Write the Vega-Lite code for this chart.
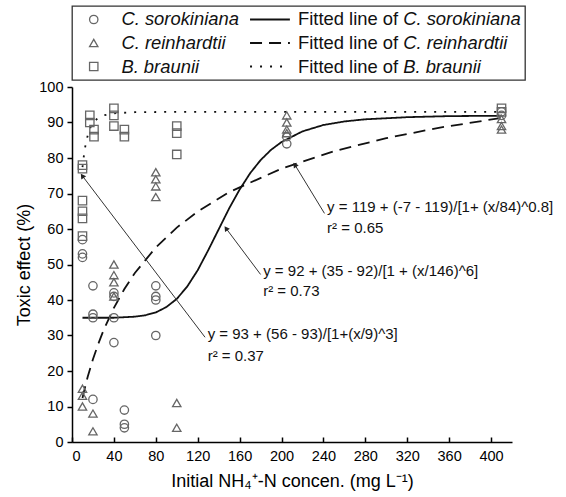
{
  "$schema": "https://vega.github.io/schema/vega-lite/v6.json",
  "padding": {"left": 15, "top": 5, "right": 5, "bottom": 2},
  "spacing": 7,
  "bounds": "flush",
  "config": {
    "view": {"stroke": null},
    "font": "Liberation Sans",
    "axis": {
      "grid": false,
      "domainColor": "#000",
      "domainWidth": 1.5,
      "tickColor": "#000",
      "tickWidth": 1.5,
      "labelColor": "#000",
      "labelFont": "Liberation Sans",
      "labelFontSize": 14.5,
      "titleColor": "#000",
      "titleFont": "Liberation Sans",
      "titleFontSize": 18,
      "titleFontWeight": "normal"
    }
  },
  "datasets": {
    "legend": [
      {"species": "C. sorokiniana"},
      {"species": "C. reinhardtii"},
      {"species": "B. braunii"}
    ],
    "obs": [
      {"species": "C. sorokiniana", "x": 10, "y": 57},
      {"species": "C. sorokiniana", "x": 10, "y": 53},
      {"species": "C. sorokiniana", "x": 10, "y": 52},
      {"species": "C. sorokiniana", "x": 20, "y": 44},
      {"species": "C. sorokiniana", "x": 20, "y": 36},
      {"species": "C. sorokiniana", "x": 20, "y": 35},
      {"species": "C. sorokiniana", "x": 20, "y": 12},
      {"species": "C. sorokiniana", "x": 40, "y": 42},
      {"species": "C. sorokiniana", "x": 40, "y": 41},
      {"species": "C. sorokiniana", "x": 40, "y": 35},
      {"species": "C. sorokiniana", "x": 40, "y": 28},
      {"species": "C. sorokiniana", "x": 50, "y": 9},
      {"species": "C. sorokiniana", "x": 50, "y": 5},
      {"species": "C. sorokiniana", "x": 50, "y": 4},
      {"species": "C. sorokiniana", "x": 80, "y": 44},
      {"species": "C. sorokiniana", "x": 80, "y": 41},
      {"species": "C. sorokiniana", "x": 80, "y": 40},
      {"species": "C. sorokiniana", "x": 80, "y": 30},
      {"species": "C. sorokiniana", "x": 205, "y": 86},
      {"species": "C. sorokiniana", "x": 205, "y": 84},
      {"species": "C. sorokiniana", "x": 410, "y": 93},
      {"species": "C. sorokiniana", "x": 410, "y": 92},
      {"species": "C. reinhardtii", "x": 10, "y": 15},
      {"species": "C. reinhardtii", "x": 10, "y": 13},
      {"species": "C. reinhardtii", "x": 10, "y": 10},
      {"species": "C. reinhardtii", "x": 20, "y": 8},
      {"species": "C. reinhardtii", "x": 20, "y": 3},
      {"species": "C. reinhardtii", "x": 40, "y": 50},
      {"species": "C. reinhardtii", "x": 40, "y": 47},
      {"species": "C. reinhardtii", "x": 40, "y": 45},
      {"species": "C. reinhardtii", "x": 40, "y": 41},
      {"species": "C. reinhardtii", "x": 80, "y": 76},
      {"species": "C. reinhardtii", "x": 80, "y": 74},
      {"species": "C. reinhardtii", "x": 80, "y": 72},
      {"species": "C. reinhardtii", "x": 80, "y": 69},
      {"species": "C. reinhardtii", "x": 100, "y": 11},
      {"species": "C. reinhardtii", "x": 100, "y": 4},
      {"species": "C. reinhardtii", "x": 205, "y": 92},
      {"species": "C. reinhardtii", "x": 205, "y": 90},
      {"species": "C. reinhardtii", "x": 205, "y": 88},
      {"species": "C. reinhardtii", "x": 205, "y": 87},
      {"species": "C. reinhardtii", "x": 410, "y": 91},
      {"species": "C. reinhardtii", "x": 410, "y": 89},
      {"species": "C. reinhardtii", "x": 410, "y": 88},
      {"species": "B. braunii", "x": 10, "y": 78},
      {"species": "B. braunii", "x": 10, "y": 77},
      {"species": "B. braunii", "x": 10, "y": 68},
      {"species": "B. braunii", "x": 10, "y": 65},
      {"species": "B. braunii", "x": 10, "y": 63},
      {"species": "B. braunii", "x": 10, "y": 58},
      {"species": "B. braunii", "x": 17, "y": 92},
      {"species": "B. braunii", "x": 17, "y": 90},
      {"species": "B. braunii", "x": 21, "y": 88},
      {"species": "B. braunii", "x": 21, "y": 86},
      {"species": "B. braunii", "x": 40, "y": 94},
      {"species": "B. braunii", "x": 40, "y": 92},
      {"species": "B. braunii", "x": 40, "y": 89},
      {"species": "B. braunii", "x": 50, "y": 88},
      {"species": "B. braunii", "x": 50, "y": 86},
      {"species": "B. braunii", "x": 100, "y": 89},
      {"species": "B. braunii", "x": 100, "y": 87},
      {"species": "B. braunii", "x": 100, "y": 81},
      {"species": "B. braunii", "x": 410, "y": 94},
      {"species": "B. braunii", "x": 410, "y": 93}
    ],
    "fits": [
      {"species": "C. sorokiniana", "x": 10, "y": 35.0},
      {"species": "C. sorokiniana", "x": 40, "y": 35.0},
      {"species": "C. sorokiniana", "x": 60, "y": 35.3},
      {"species": "C. sorokiniana", "x": 70, "y": 35.7},
      {"species": "C. sorokiniana", "x": 80, "y": 36.5},
      {"species": "C. sorokiniana", "x": 90, "y": 38.0},
      {"species": "C. sorokiniana", "x": 100, "y": 40.3},
      {"species": "C. sorokiniana", "x": 110, "y": 43.8},
      {"species": "C. sorokiniana", "x": 120, "y": 48.4},
      {"species": "C. sorokiniana", "x": 130, "y": 54.0},
      {"species": "C. sorokiniana", "x": 140, "y": 59.9},
      {"species": "C. sorokiniana", "x": 150, "y": 65.8},
      {"species": "C. sorokiniana", "x": 160, "y": 71.1},
      {"species": "C. sorokiniana", "x": 170, "y": 75.7},
      {"species": "C. sorokiniana", "x": 180, "y": 79.4},
      {"species": "C. sorokiniana", "x": 190, "y": 82.3},
      {"species": "C. sorokiniana", "x": 200, "y": 84.5},
      {"species": "C. sorokiniana", "x": 220, "y": 87.5},
      {"species": "C. sorokiniana", "x": 240, "y": 89.3},
      {"species": "C. sorokiniana", "x": 260, "y": 90.3},
      {"species": "C. sorokiniana", "x": 280, "y": 90.9},
      {"species": "C. sorokiniana", "x": 320, "y": 91.5},
      {"species": "C. sorokiniana", "x": 360, "y": 91.8},
      {"species": "C. sorokiniana", "x": 410, "y": 91.9},
      {"species": "C. reinhardtii", "x": 10, "y": 12.4},
      {"species": "C. reinhardtii", "x": 12, "y": 14.9},
      {"species": "C. reinhardtii", "x": 15, "y": 18.4},
      {"species": "C. reinhardtii", "x": 20, "y": 23.3},
      {"species": "C. reinhardtii", "x": 25, "y": 27.6},
      {"species": "C. reinhardtii", "x": 30, "y": 31.4},
      {"species": "C. reinhardtii", "x": 40, "y": 37.8},
      {"species": "C. reinhardtii", "x": 50, "y": 43.1},
      {"species": "C. reinhardtii", "x": 60, "y": 47.6},
      {"species": "C. reinhardtii", "x": 80, "y": 54.8},
      {"species": "C. reinhardtii", "x": 100, "y": 60.4},
      {"species": "C. reinhardtii", "x": 120, "y": 64.9},
      {"species": "C. reinhardtii", "x": 150, "y": 70.4},
      {"species": "C. reinhardtii", "x": 200, "y": 77.0},
      {"species": "C. reinhardtii", "x": 250, "y": 81.9},
      {"species": "C. reinhardtii", "x": 300, "y": 85.6},
      {"species": "C. reinhardtii", "x": 350, "y": 88.5},
      {"species": "C. reinhardtii", "x": 410, "y": 91.3},
      {"species": "B. braunii", "x": 10, "y": 77.4},
      {"species": "B. braunii", "x": 11, "y": 79.9},
      {"species": "B. braunii", "x": 12, "y": 82.0},
      {"species": "B. braunii", "x": 13, "y": 83.8},
      {"species": "B. braunii", "x": 14, "y": 85.2},
      {"species": "B. braunii", "x": 16, "y": 87.4},
      {"species": "B. braunii", "x": 18, "y": 88.9},
      {"species": "B. braunii", "x": 20, "y": 89.9},
      {"species": "B. braunii", "x": 25, "y": 91.35},
      {"species": "B. braunii", "x": 30, "y": 92.0},
      {"species": "B. braunii", "x": 40, "y": 92.6},
      {"species": "B. braunii", "x": 60, "y": 92.9},
      {"species": "B. braunii", "x": 100, "y": 93.0},
      {"species": "B. braunii", "x": 200, "y": 93.0},
      {"species": "B. braunii", "x": 410, "y": 93.0}
    ],
    "arrows": [
      {"x": 127, "y": 29.5, "tx": 9.8, "ty": 75},
      {"x": 180, "y": 47.2, "tx": 147, "ty": 60.2},
      {"x": 241, "y": 64.4, "tx": 212.7, "ty": 78.1}
    ],
    "notes": [
      {"label": "y = 93 + (56 - 93)/[1+(x/9)^3]", "x": 129.5, "y": 30.4},
      {"label": "r² = 0.37", "x": 129.5, "y": 24.2},
      {"label": "y = 92 + (35 - 92)/[1 + (x/146)^6]", "x": 182.5, "y": 48.2},
      {"label": "r² = 0.73", "x": 182.5, "y": 42.6},
      {"label": "y = 119 + (-7 - 119)/[1+ (x/84)^0.8]", "x": 243.5, "y": 66.2},
      {"label": "r² = 0.65", "x": 243.5, "y": 60.4}
    ]
  },
  "vconcat": [
    {
      "width": 453,
      "height": 74,
      "view": {"stroke": "#333", "strokeWidth": 1.3},
      "data": {"name": "legend"},
      "encoding": {
        "y": {"field": "species", "type": "nominal", "scale": {"type": "point", "domain": ["C. sorokiniana", "C. reinhardtii", "B. braunii"], "padding": 0.574}, "axis": null}
      },
      "layer": [
        {
          "mark": {"type": "point", "filled": false, "color": "#666", "size": 70, "strokeWidth": 1.3, "opacity": 1},
          "encoding": {
            "x": {"datum": 4.8, "type": "quantitative", "scale": {"domain": [0, 100]}, "axis": null},
            "shape": {"field": "species", "type": "nominal", "scale": {"domain": ["C. sorokiniana", "C. reinhardtii", "B. braunii"], "range": ["circle", "triangle-up", "square"]}, "legend": null}
          }
        },
        {
          "mark": {"type": "text", "align": "left", "baseline": "middle", "fontSize": 18.4, "fontStyle": "italic", "color": "#111", "font": "Liberation Sans"},
          "encoding": {
            "x": {"datum": 10.9, "type": "quantitative", "scale": {"domain": [0, 100]}, "axis": null},
            "text": {"field": "species"}
          }
        },
        {
          "mark": {"type": "rule", "color": "#111", "strokeWidth": 2},
          "encoding": {
            "x": {"datum": 39.3, "type": "quantitative", "scale": {"domain": [0, 100]}, "axis": null},
            "x2": {"datum": 48.1},
            "strokeDash": {"field": "species", "type": "nominal", "scale": {"domain": ["C. sorokiniana", "C. reinhardtii", "B. braunii"], "range": [[1, 0], [12, 7], [2, 8]]}, "legend": null}
          }
        },
        {
          "mark": {"type": "text", "align": "right", "baseline": "middle", "fontSize": 18.4, "color": "#111", "font": "Liberation Sans"},
          "encoding": {
            "x": {"datum": 72.0, "type": "quantitative", "scale": {"domain": [0, 100]}, "axis": null},
            "text": {"value": "Fitted line of"}
          }
        },
        {
          "mark": {"type": "text", "align": "left", "baseline": "middle", "fontSize": 18.4, "fontStyle": "italic", "color": "#111", "font": "Liberation Sans"},
          "encoding": {
            "x": {"datum": 73.1, "type": "quantitative", "scale": {"domain": [0, 100]}, "axis": null},
            "text": {"field": "species"}
          }
        }
      ]
    },
    {
      "width": 440,
      "height": 355,
      "encoding": {
        "x": {"type": "quantitative", "scale": {"domain": [0, 420], "nice": false}, "axis": {"values": [0, 40, 80, 120, 160, 200, 240, 280, 320, 360, 400], "tickSize": -5, "labelPadding": 12, "title": "Initial NH₄⁺-N concen. (mg L⁻¹)", "titlePadding": 10}},
        "y": {"type": "quantitative", "scale": {"domain": [0, 100], "nice": false}, "axis": {"values": [0, 10, 20, 30, 40, 50, 60, 70, 80, 90, 100], "tickSize": 5, "labelPadding": 4, "title": "Toxic effect (%)", "titlePadding": 5}}
      },
      "layer": [
        {
          "data": {"name": "fits"},
          "mark": {"type": "line", "color": "#111", "strokeWidth": 1.8},
          "encoding": {
            "x": {"field": "x", "type": "quantitative"},
            "y": {"field": "y", "type": "quantitative"},
            "strokeDash": {"field": "species", "type": "nominal", "scale": {"domain": ["C. sorokiniana", "C. reinhardtii", "B. braunii"], "range": [[1, 0], [12, 7], [2, 8]]}, "legend": null}
          }
        },
        {
          "data": {"name": "obs"},
          "mark": {"type": "point", "filled": false, "color": "#666", "size": 70, "strokeWidth": 1.3, "opacity": 1},
          "encoding": {
            "x": {"field": "x", "type": "quantitative"},
            "y": {"field": "y", "type": "quantitative"},
            "shape": {"field": "species", "type": "nominal", "scale": {"domain": ["C. sorokiniana", "C. reinhardtii", "B. braunii"], "range": ["circle", "triangle-up", "square"]}, "legend": null}
          }
        },
        {
          "data": {"name": "arrows"},
          "mark": {"type": "rule", "color": "#333", "strokeWidth": 1},
          "encoding": {
            "x": {"field": "x", "type": "quantitative"},
            "y": {"field": "y", "type": "quantitative"},
            "x2": {"field": "tx"},
            "y2": {"field": "ty"}
          }
        },
        {
          "data": {"name": "arrows"},
          "mark": {"type": "point", "shape": "triangle-up", "filled": true, "color": "#222", "size": 35, "angle": -35, "opacity": 1},
          "encoding": {
            "x": {"field": "tx", "type": "quantitative"},
            "y": {"field": "ty", "type": "quantitative"}
          }
        },
        {
          "data": {"name": "notes"},
          "mark": {"type": "text", "align": "left", "baseline": "middle", "fontSize": 15, "color": "#111", "font": "Liberation Sans"},
          "encoding": {
            "x": {"field": "x", "type": "quantitative"},
            "y": {"field": "y", "type": "quantitative"},
            "text": {"field": "label"}
          }
        }
      ]
    }
  ],
  "resolve": {"scale": {"x": "independent", "y": "independent", "shape": "independent", "strokeDash": "independent"}}
}
